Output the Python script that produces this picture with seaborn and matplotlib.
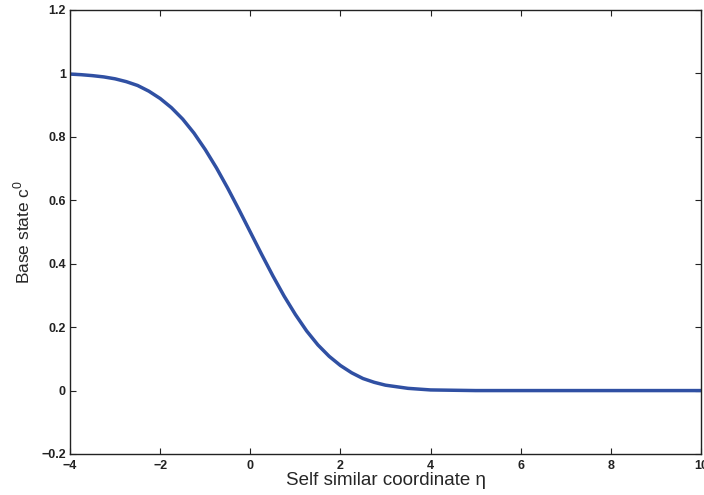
import numpy as np
import pandas as pd
import matplotlib
matplotlib.use('Agg')
import matplotlib.pyplot as plt
import seaborn as sns

# values
eta = [-4, -3.75, -3.5, -3.25, -3, -2.75, -2.5, -2.25, -2, -1.75, -1.5, -1.25,
       -1, -0.75, -0.5, -0.25, 0, 0.25, 0.5, 0.75, 1, 1.25, 1.5, 1.75,
       2, 2.25, 2.5, 2.75, 3, 3.5, 4, 5, 6, 7, 8, 9, 10]
c0 = [0.998, 0.996, 0.993, 0.989, 0.983, 0.974, 0.962, 0.944, 0.921, 0.892, 0.856, 0.812,
      0.760, 0.702, 0.638, 0.570, 0.500, 0.430, 0.362, 0.298, 0.240, 0.188, 0.144, 0.108,
      0.079, 0.056, 0.038, 0.026, 0.017, 0.007, 0.002, 0.0, 0.0, 0.0, 0.0, 0.0, 0.0]
xticks = [-4, -2, 0, 2, 4, 6, 8, 10]
yticks = [-0.2, 0, 0.2, 0.4, 0.6, 0.8, 1, 1.2]
xticklabels = ['\u22124', '\u22122', '0', '2', '4', '6', '8', '10']
yticklabels = ['\u22120.2', '0', '0.2', '0.4', '0.6', '0.8', '1', '1.2']

df = pd.DataFrame({'eta': eta, 'c0': c0})

sns.set_style('ticks')
plt.rcParams['font.family'] = ['Liberation Sans', 'DejaVu Sans']
plt.rcParams['mathtext.fontset'] = 'custom'
plt.rcParams['mathtext.rm'] = 'Liberation Sans'

fig = plt.figure(figsize=(7.04, 4.95), dpi=100)
ax = fig.add_axes([70 / 704, 1 - 454 / 495, 631 / 704, 444 / 495])

sns.lineplot(data=df, x='eta', y='c0', ax=ax, color='#3050a3', linewidth=2.5)

ax.set_xlim(-4, 10)
ax.set_ylim(-0.2, 1.2)
ax.set_xticks(xticks)
ax.set_xticklabels(xticklabels, fontweight='bold', fontsize=9)
ax.set_yticks(yticks)
ax.set_yticklabels(yticklabels, fontweight='bold', fontsize=9)
ax.tick_params(direction='in', length=4.5, width=0.8, top=True, right=True,
               colors='#222222')
ax.tick_params(axis='x', pad=4)
ax.tick_params(axis='y', pad=3)
for s in ax.spines.values():
    s.set_linewidth(1.0)
    s.set_color('#222222')

ax.set_xlabel('Self similar coordinate \u03b7', fontsize=13.5, labelpad=0)
ax.set_ylabel(r'Base state c$^{\mathrm{0}}$', fontsize=12.5, labelpad=6)

fig.savefig('out.png', dpi=100)
